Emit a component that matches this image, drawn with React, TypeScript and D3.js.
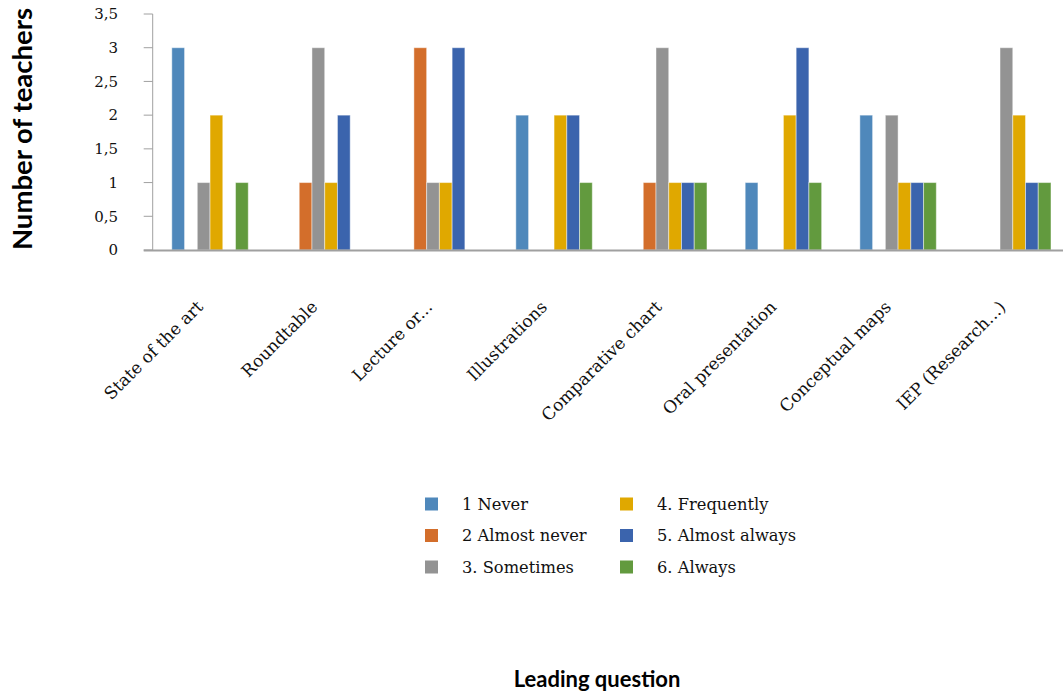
import React from "react";
import * as d3 from "d3";

const categories = [
  "State of the art",
  "Roundtable",
  "Lecture or...",
  "Illustrations",
  "Comparative chart",
  "Oral presentation",
  "Conceptual maps",
  "IEP (Research...)",
];
const seriesNames = [
  "1 Never",
  "2 Almost never",
  "3. Sometimes",
  "4. Frequently",
  "5. Almost always",
  "6. Always",
];
const never = [3, 0, 0, 2, 0, 1, 2, 0];
const almostNever = [0, 1, 3, 0, 1, 0, 0, 0];
const sometimes = [1, 3, 1, 0, 3, 0, 2, 3];
const frequently = [2, 1, 1, 2, 1, 2, 1, 2];
const almostAlways = [0, 2, 3, 2, 1, 3, 1, 1];
const always = [1, 0, 0, 1, 1, 1, 1, 1];
const seriesValues = [never, almostNever, sometimes, frequently, almostAlways, always];
const colors = ["#4F88BB", "#D36E2B", "#939393", "#E0A800", "#3B64AD", "#629A3E"];
const yTicks = [0, 0.5, 1, 1.5, 2, 2.5, 3, 3.5];

const W = 1063;
const H = 695;
const plotLeft = 152.7;
const plotRight = 1070.1;
const plotTop = 14;
const plotBottom = 250;
const SERIF = "DejaVu Serif";
const SANS = "Lato";

export default function App() {
  const x0 = d3.scaleBand<string>().domain(categories).range([plotLeft, plotRight]).padding(0);
  const step = x0.step();
  const gw = step / 1.5;
  const x1 = d3.scaleBand<string>().domain(seriesNames).range([0, gw]).padding(0);
  const y = d3.scaleLinear().domain([0, 3.5]).range([plotBottom, plotTop]);
  const fmt = (v: number) => String(v).replace(".", ",");

  return (
    <svg
      width={W}
      height={H}
      style={{ position: "absolute", left: 0, top: 0, background: "#fff" }}
    >
      {/* y axis */}
      <line x1={plotLeft} x2={plotLeft} y1={plotTop} y2={plotBottom} stroke="#A0A0A0" strokeWidth={1} />
      {yTicks.map((t) => (
        <g key={t}>
          <line x1={plotLeft - 9} x2={plotLeft} y1={y(t)} y2={y(t)} stroke="#A0A0A0" strokeWidth={1} />
          <text
            x={118}
            y={y(t)}
            dy="0.35em"
            textAnchor="end"
            style={{ fontFamily: SERIF, fontSize: 15 }}
            fill="#111"
          >
            {fmt(t)}
          </text>
        </g>
      ))}
      {/* bars */}
      {categories.map((c, ci) => (
        <g key={c} transform={`translate(${x0(c)! + (step - gw) / 2},0)`}>
          {seriesNames.map((s, si) => {
            const v = seriesValues[si][ci];
            if (!v) return null;
            return (
              <rect
                key={s}
                x={x1(s)!}
                y={y(v)}
                width={x1.bandwidth()}
                height={y(0) - y(v)}
                fill={colors[si]}
                stroke="rgba(255,255,255,0.45)"
                strokeWidth={1}
              />
            );
          })}
        </g>
      ))}
      {/* x axis baseline */}
      <line x1={plotLeft - 9} x2={plotRight} y1={plotBottom + 0.5} y2={plotBottom + 0.5} stroke="#A0A0A0" strokeWidth={2} />
      {/* category labels */}
      {categories.map((c) => {
        const cx = x0(c)! + step / 2 - 6;
        const cy = 308;
        return (
          <text
            key={c}
            transform={`translate(${cx},${cy}) rotate(-45)`}
            textAnchor="end"
            style={{ fontFamily: SERIF, fontSize: 17 }}
            fill="#111"
          >
            {c}
          </text>
        );
      })}
      {/* legend */}
      {seriesNames.map((s, i) => {
        const col = Math.floor(i / 3);
        const row = i % 3;
        const lx = 425 + col * 195;
        const ly = 504 + row * 31.5;
        return (
          <g key={s}>
            <rect x={lx} y={ly - 6.5} width={13} height={13} fill={colors[i]} />
            <text
              x={lx + 37}
              y={ly}
              dy="0.35em"
              style={{ fontFamily: SERIF, fontSize: 16.3 }}
              fill="#111"
            >
              {s}
            </text>
          </g>
        );
      })}
      {/* axis titles */}
      <text
        transform={`translate(32,129) rotate(-90)`}
        textAnchor="middle"
        style={{ fontFamily: SANS, fontWeight: 700, fontSize: 27.5 }}
        fill="#000"
      >
        Number of teachers
      </text>
      <text
        x={597}
        y={687}
        textAnchor="middle"
        style={{ fontFamily: SANS, fontWeight: 700, fontSize: 22 }}
        fill="#000"
      >
        Leading question
      </text>
    </svg>
  );
}
